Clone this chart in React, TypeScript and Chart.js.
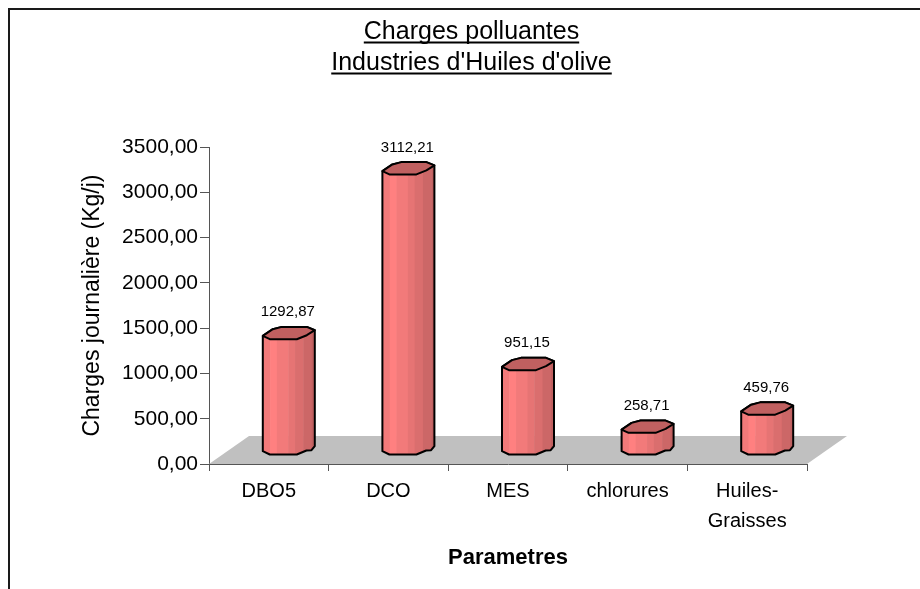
import React, { useEffect, useRef } from "react";
import { Chart, registerables } from "chart.js";

Chart.register(...registerables);

const categories = ["DBO5", "DCO", "MES", "chlorures", ["Huiles-", "Graisses"]];
const charges = [1292.87, 3112.21, 951.15, 258.71, 459.76];
const valueLabels = ["1292,87", "3112,21", "951,15", "258,71", "459,76"];
const titleLines = ["Charges polluantes", "Industries d'Huiles d'olive"];
const yAxisTitle = "Charges journalière (Kg/j)";
const xAxisTitle = "Parametres";

const FONT = "'Liberation Sans', Arial, sans-serif";
const TITLE_SIZE = 25;
const TITLE_LINE = 31;
const TITLE_TOP = 7;
const DEPTH_X = 40;
const DEPTH_Y = 28;
const STRIPES = ["#f27a7a", "#ff8080", "#f27a7a", "#e67474", "#da6e6e", "#cc6767", "#c06060"];
const STRIPE_W = [0.14, 0.13, 0.22, 0.13, 0.16, 0.16, 0.06];
const TOP_BACK: number[][] = [[-26, 3], [-16, -3.7], [-7, -6], [18, -6], [26, -2.7]];
const TOP_FRONT: number[][] = [[26, -2.7], [18, 2.3], [8, 6.3], [-19, 6.3], [-26, 3]];
const BOTTOM: number[][] = [[26, -3.3], [22.7, 0.7], [17.7, 1], [8, 5], [-19, 5], [-26, 1.7]];

const scenePlugin = {
  id: "scene3d",
  afterLayout(chart: any) {
    chart.titleBlock.left = 23;
    chart.titleBlock.right = 920;
  },
  beforeDraw(chart: any) {
    const { ctx } = chart;
    ctx.save();
    ctx.strokeStyle = "#1a1a1a";
    ctx.lineWidth = 2;
    ctx.beginPath();
    ctx.moveTo(9, 589);
    ctx.lineTo(9, 9);
    ctx.lineTo(920, 9);
    ctx.stroke();
    ctx.restore();
  },
  beforeDatasetsDraw(chart: any) {
    const { ctx, chartArea: a } = chart;
    ctx.save();
    ctx.fillStyle = "#c0c0c0";
    ctx.beginPath();
    ctx.moveTo(a.left, a.bottom);
    ctx.lineTo(a.right, a.bottom);
    ctx.lineTo(a.right + DEPTH_X, a.bottom - DEPTH_Y);
    ctx.lineTo(a.left + DEPTH_X, a.bottom - DEPTH_Y);
    ctx.closePath();
    ctx.fill();
    ctx.restore();
  },
  afterDatasetsDraw(chart: any) {
    const { ctx } = chart;
    const meta = chart.getDatasetMeta(0);
    meta.data.forEach((bar: any, i: number) => {
      const cx = bar.x + DEPTH_X / 2;
      const topY = bar.y - DEPTH_Y / 2;
      const botY = bar.base - DEPTH_Y / 2;
      ctx.save();
      const path = () => {
        ctx.beginPath();
        TOP_BACK.forEach(([x, y], k) => (k ? ctx.lineTo(cx + x, topY + y) : ctx.moveTo(cx + x, topY + y)));
        BOTTOM.forEach(([x, y]) => ctx.lineTo(cx + x, botY + y));
        ctx.closePath();
      };
      path();
      ctx.save();
      ctx.clip();
      let sx = cx - 26;
      STRIPES.forEach((c, k) => {
        const w = STRIPE_W[k] * 52;
        ctx.fillStyle = c;
        ctx.fillRect(sx, topY - 10, w + 0.5, botY - topY + 20);
        sx += w;
      });
      ctx.restore();
      ctx.lineWidth = 2;
      ctx.lineJoin = "round";
      ctx.strokeStyle = "#000";
      path();
      ctx.stroke();
      ctx.beginPath();
      TOP_BACK.forEach(([x, y], k) => (k ? ctx.lineTo(cx + x, topY + y) : ctx.moveTo(cx + x, topY + y)));
      TOP_FRONT.forEach(([x, y]) => ctx.lineTo(cx + x, topY + y));
      ctx.closePath();
      ctx.fillStyle = "#c06060";
      ctx.fill();
      ctx.stroke();
      ctx.fillStyle = "#000";
      ctx.font = `15px ${FONT}`;
      ctx.textAlign = "center";
      ctx.textBaseline = "alphabetic";
      ctx.fillText(valueLabels[i], cx - 1, topY - 16.5);
      ctx.restore();
    });
  },
  afterDraw(chart: any) {
    const { ctx, titleBlock: t } = chart;
    const center = (t.left + t.right) / 2;
    ctx.save();
    ctx.font = `${TITLE_SIZE}px ${FONT}`;
    ctx.strokeStyle = "#000";
    ctx.lineWidth = 2;
    titleLines.forEach((line, i) => {
      const w = ctx.measureText(line).width;
      const y = t.top + TITLE_TOP + TITLE_LINE * (i + 1) - 5.5;
      ctx.beginPath();
      ctx.moveTo(center - w / 2, y);
      ctx.lineTo(center + w / 2, y);
      ctx.stroke();
    });
    ctx.restore();
  },
};

export default function App() {
  const ref = useRef<HTMLCanvasElement>(null);
  useEffect(() => {
    const chart = new Chart(ref.current as HTMLCanvasElement, {
      type: "bar",
      data: {
        labels: categories as any,
        datasets: [
          {
            data: charges,
            backgroundColor: "rgba(0,0,0,0)",
            borderWidth: 0,
            barThickness: 52,
          },
        ],
      },
      options: {
        responsive: false,
        animation: false,
        layout: { padding: { top: 10, left: 0, right: 113, bottom: 0 } },
        plugins: {
          legend: { display: false },
          tooltip: { enabled: false },
          title: {
            display: true,
            text: titleLines,
            color: "#000",
            font: { family: FONT, size: TITLE_SIZE, weight: "normal", lineHeight: TITLE_LINE / TITLE_SIZE },
            padding: { top: TITLE_TOP, bottom: 68 },
          },
        },
        scales: {
          x: {
            afterFit: (s: any) => {
              s.height = 125;
            },
            grid: { drawOnChartArea: false, drawTicks: true, tickLength: 7, color: "#555" },
            border: { color: "#555", width: 1 },
            ticks: {
              color: "#000",
              padding: 5,
              font: { family: FONT, size: 20, lineHeight: 1.5 },
              maxRotation: 0,
              autoSkip: false,
            },
            title: {
              display: true,
              text: xAxisTitle,
              color: "#000",
              padding: { top: 4, bottom: 18 },
              font: { family: FONT, size: 22, weight: "bold" },
            },
          },
          y: {
            min: 0,
            max: 3500,
            afterFit: (s: any) => {
              s.width = 209;
            },
            grid: { drawOnChartArea: false, drawTicks: true, tickLength: 9, color: "#555" },
            border: { color: "#555", width: 1 },
            ticks: {
              stepSize: 500,
              color: "#000",
              padding: 2,
              font: { family: FONT, size: 21 },
              callback: (v: any) => Number(v).toFixed(2).replace(".", ","),
            },
            title: {
              display: true,
              text: yAxisTitle,
              color: "#000",
              padding: { top: 79, bottom: 0 },
              font: { family: FONT, size: 23 },
            },
          },
        },
      },
      plugins: [scenePlugin],
    } as any);
    return () => chart.destroy();
  }, []);
  return (
    <div style={{ position: "absolute", left: 0, top: 0, width: 920, height: 589, background: "#fff", overflow: "hidden" }}>
      <canvas ref={ref} width={920} height={589} style={{ display: "block" }} />
    </div>
  );
}
